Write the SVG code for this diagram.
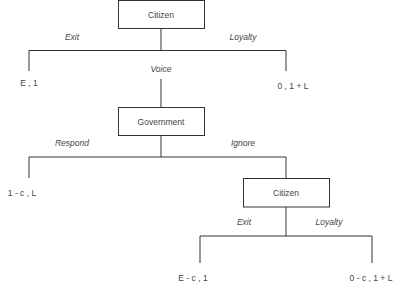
<svg xmlns="http://www.w3.org/2000/svg" width="400" height="287" viewBox="0 0 400 287">
<style>
.box{fill:#fff;stroke:#333;stroke-width:1}
.ln{fill:none;stroke:#333;stroke-width:1}
text{font-family:"Liberation Sans",Arial,sans-serif;font-size:8.5px;fill:#444;text-anchor:middle;dominant-baseline:central}
.lab{font-style:italic}
</style>
<rect width="400" height="287" fill="#fff"/>
<g id="connectors">
<path class="ln" d="M161 28.5V50.5M29 71V50.5H286V71"/>
<path class="ln" d="M161 79V107.5"/>
<path class="ln" d="M161 135.5V157M29 178V157H286V178"/>
<path class="ln" d="M286 207V236M200 263V236H372V263"/>
<text class="lab" x="72" y="37">Exit</text>
<text class="lab" x="243" y="37">Loyalty</text>
<text class="lab" x="161" y="69">Voice</text>
<text class="lab" x="72" y="143">Respond</text>
<text class="lab" x="243" y="143">Ignore</text>
<text class="lab" x="244" y="222">Exit</text>
<text class="lab" x="329" y="222">Loyalty</text>
</g>
<g id="citizen1">
<rect class="box" x="118.5" y="0.5" width="86" height="28"/>
<text x="161" y="15">Citizen</text>
</g>
<g id="outcome-exit1"><text x="29" y="83">E , 1</text></g>
<g id="outcome-loyalty1"><text x="293" y="86">0 , 1 + L</text></g>
<g id="government">
<rect class="box" x="118.5" y="107.5" width="86" height="28"/>
<text x="161" y="121.5">Government</text>
</g>
<g id="outcome-respond"><text x="22" y="193">1 - c , L</text></g>
<g id="citizen2">
<rect class="box" x="243.5" y="178.5" width="86" height="28.5"/>
<text x="286" y="193">Citizen</text>
</g>
<g id="outcome-exit2"><text x="193" y="278">E - c , 1</text></g>
<g id="outcome-loyalty2"><text x="371" y="278">0 - c , 1 + L</text></g>
</svg>
